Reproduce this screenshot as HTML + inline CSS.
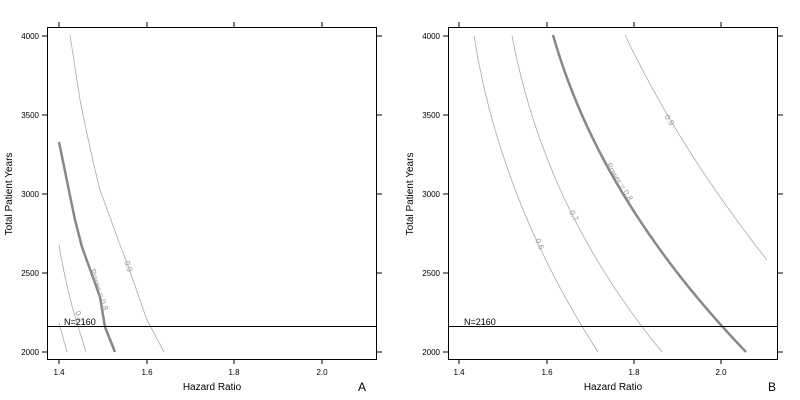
<!DOCTYPE html>
<html><head><style>body{margin:0;background:#fff}svg{display:block}</style></head><body>
<svg width="800" height="400" xmlns="http://www.w3.org/2000/svg" font-family="Liberation Sans, sans-serif">
<g fill="none" stroke="#000" stroke-width="1">
<rect x="47.5" y="27.5" width="329" height="332"/>
<rect x="448.5" y="27.5" width="329" height="332"/>
</g>
<g stroke="#000" stroke-width="1">
<!-- A ticks -->
<path d="M59 359v5M147 359v5M234 359v5M322 359v5M59 27v-5M147 27v-5M234 27v-5M322 27v-5"/>
<path d="M47 352h-5M47 273h-5M47 194h-5M47 115h-5M47 36h-5M377 352h5M377 273h5M377 194h5M377 115h5M377 36h5"/>
<!-- B ticks -->
<path d="M459 359v5M547 359v5M634 359v5M721 359v5M459 27v-5M547 27v-5M634 27v-5M721 27v-5"/>
<path d="M448 352h-5M448 273h-5M448 194h-5M448 115h-5M448 36h-5M778 352h5M778 273h5M778 194h5M778 115h5M778 36h5"/>
</g>
<g font-size="8" fill="#000" text-anchor="middle">
<text x="59" y="375">1.4</text><text x="147" y="375">1.6</text><text x="234" y="375">1.8</text><text x="322" y="375">2.0</text>
<text x="459" y="375">1.4</text><text x="547" y="375">1.6</text><text x="634" y="375">1.8</text><text x="721" y="375">2.0</text>
</g>
<g font-size="8" fill="#000" text-anchor="end">
<text x="39" y="355">2000</text><text x="39" y="276">2500</text><text x="39" y="197">3000</text><text x="39" y="118">3500</text><text x="39" y="39">4000</text>
<text x="440" y="355">2000</text><text x="440" y="276">2500</text><text x="440" y="197">3000</text><text x="440" y="118">3500</text><text x="440" y="39">4000</text>
</g>
<g font-size="10" fill="#000" text-anchor="middle">
<text x="212" y="390">Hazard Ratio</text><text x="613" y="390">Hazard Ratio</text>
<text transform="translate(12,194) rotate(-90)">Total Patient Years</text>
<text transform="translate(413,194) rotate(-90)">Total Patient Years</text>
<text x="362" y="391" font-size="12">A</text><text x="772" y="391" font-size="12">B</text>
</g>
<!-- A curves -->
<g fill="none" stroke="#aaa" stroke-width="0.8">
<path d="M59 323 L67 352"/>
<path d="M59 245 C64 275 70 300 76 320 L86 352"/>
<path d="M70 35 L80 100 Q90 150 100 190 L111 220 Q118 240 127 263 L147 320 L164 352"/>
</g>
<path d="M59 142 L75 220 L82 247 L100 297 L105 327 L115 352" fill="none" stroke="#888" stroke-width="2.5"/>
<!-- B curves -->
<g fill="none" stroke="#aaa" stroke-width="0.8">
<path d="M474 36 Q500 200 598 352"/>
<path d="M512 36 Q545 210 662 352"/>
<path d="M625 35 Q680 150 767 260"/>
</g>
<path d="M553 35 Q600 200 746 352" fill="none" stroke="#888" stroke-width="2.5"/>
<!-- N line -->
<g stroke="#000" stroke-width="1"><path d="M48 326.5H376M449 326.5H777"/></g>
<g font-size="9" fill="#000"><text x="64" y="325">N=2160</text><text x="464" y="325">N=2160</text></g>
<g font-size="8" fill="#999">
<text transform="translate(124,262) rotate(70)">0.9</text>
<text transform="translate(75,312) rotate(72)">0.7</text>
<text transform="translate(90,270) rotate(72)">Power = 0.8</text>
<text transform="translate(664,117) rotate(55)">0.9</text>
<text transform="translate(606,165) rotate(58)">Power = 0.8</text>
<text transform="translate(569,212) rotate(62)">0.7</text>
<text transform="translate(535,240) rotate(66)">0.6</text>
</g>
</svg>
</body></html>
